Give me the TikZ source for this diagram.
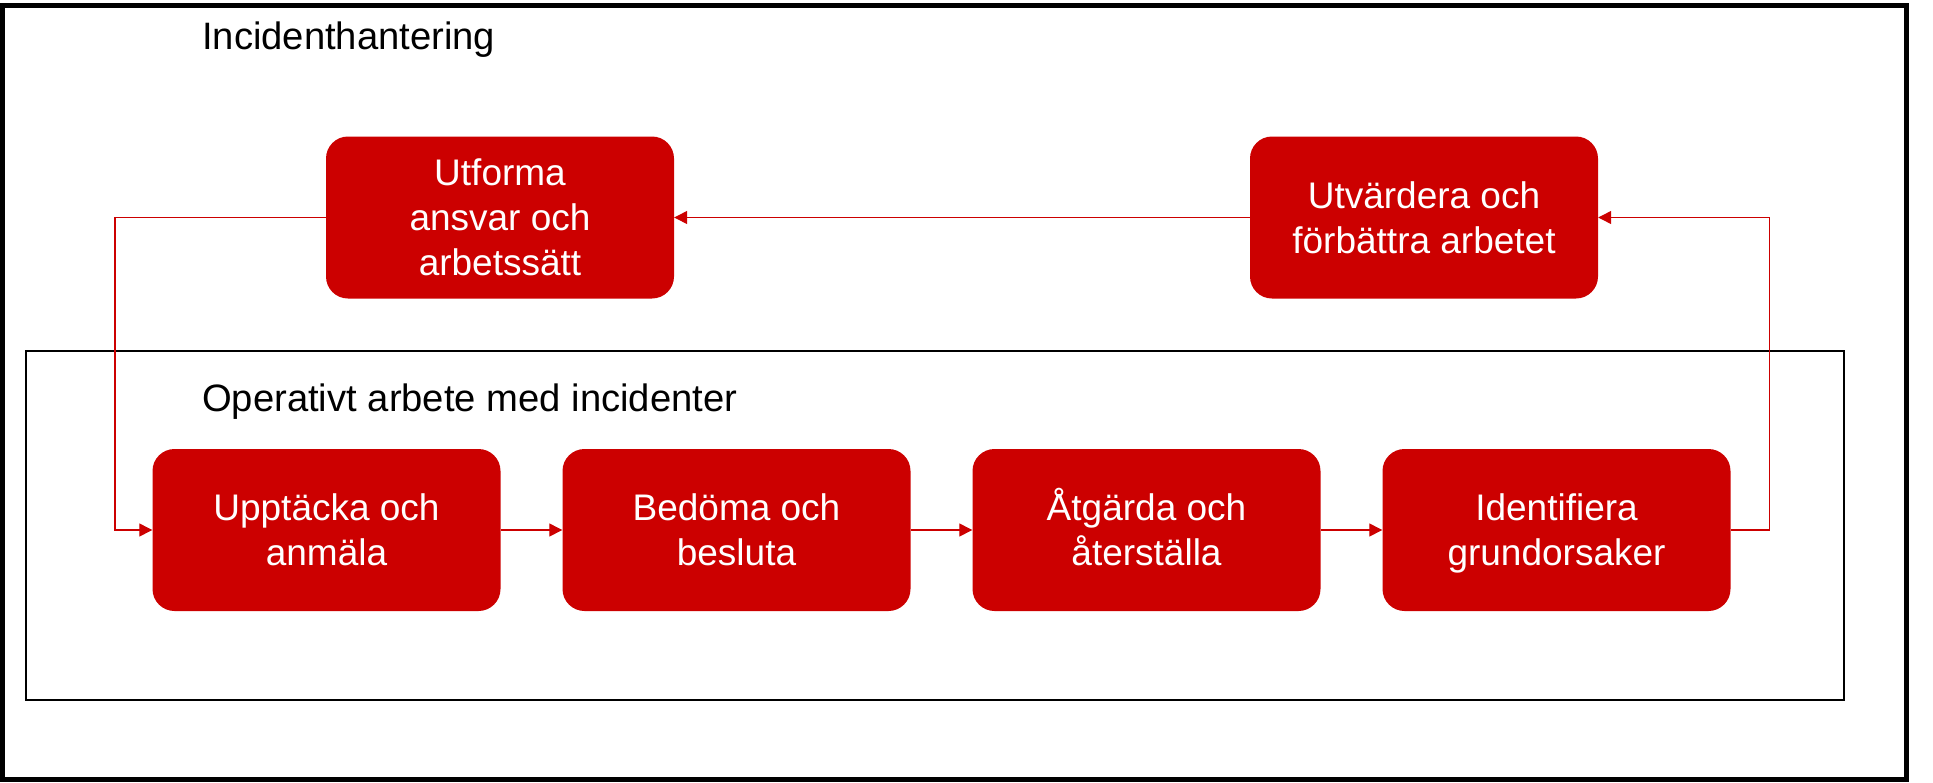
\documentclass[tikz,border=0pt]{standalone}
\usepackage{fontspec}
\setmainfont{Liberation Sans}
\usetikzlibrary{arrows.meta}
\definecolor{boxred}{RGB}{204,0,0}
\newcommand{\vs}{\rule[-9.2pt]{0pt}{45pt}}
\begin{document}
\begin{tikzpicture}[x=1pt,y=-1pt,
  stepbox/.style={fill=boxred, rounded corners=22pt, minimum width=348pt, minimum height=162pt, inner sep=0pt, text=white, align=center, font=\fontsize{37}{45}\selectfont},
  flow/.style={draw=boxred, line width=1.3pt, -{Triangle[length=13pt,width=13pt]}},
  titletext/.style={anchor=base west, font=\fontsize{38.2}{45}\selectfont, inner sep=0pt}]
\useasboundingbox (0,0) rectangle (1933,782);
\draw[line width=5pt] (2.5,5.5) rectangle (1906,779);
\draw[line width=2pt] (26,351) rectangle (1843.5,700);
\node[titletext] (t1) at (202,49) {Incidenthantering};
\node[titletext] (t2) at (202,411) {Operativt arbete med incidenter};
\node[stepbox] (a) at (500,217.5) {\vs Utforma\\\vs ansvar och\\\vs arbetssätt};
\node[stepbox] (b) at (1424,217.5) {\vs Utvärdera och\\\vs förbättra arbetet};
\node[stepbox] (c1) at (326.5,530) {\vs Upptäcka och\\\vs anmäla};
\node[stepbox] (c2) at (736.5,530) {\vs Bedöma och\\\vs besluta};
\node[stepbox] (c3) at (1146.5,530) {\vs Åtgärda och\\\vs återställa};
\node[stepbox] (c4) at (1556.5,530) {\vs Identifiera\\\vs grundorsaker};
\coordinate (l) at (115,0);
\coordinate (r) at (1769.5,0);
\draw[flow] (a.west) -- (a.west -| l) -- (c1.west -| l) -- (c1.west);
\draw[flow] (c1.east) -- (c2.west);
\draw[flow] (c2.east) -- (c3.west);
\draw[flow] (c3.east) -- (c4.west);
\draw[flow] (c4.east) -- (c4.east -| r) -- (b.east -| r) -- (b.east);
\draw[flow] (b.west) -- (a.east);
\end{tikzpicture}
\end{document}
